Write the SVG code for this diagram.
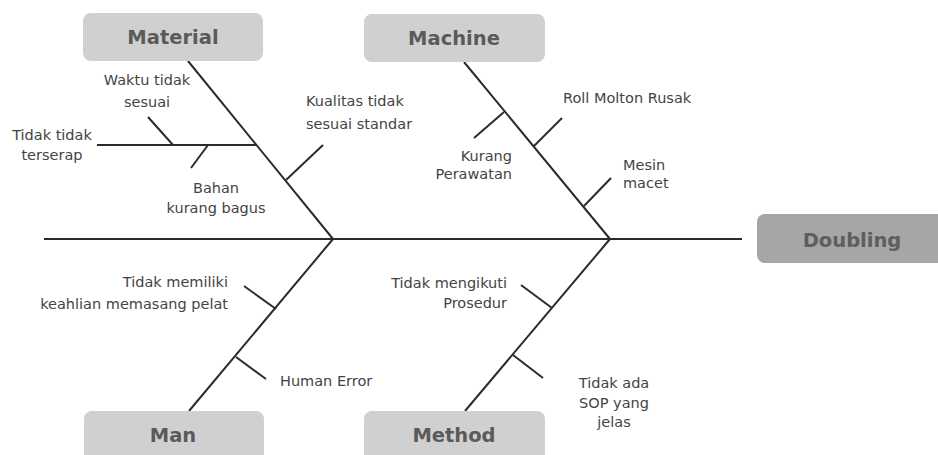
<svg xmlns="http://www.w3.org/2000/svg" width="938" height="455" viewBox="0 0 938 455">
<style>
.box{fill:#d0d0d0;}
.head{fill:#a6a6a6;}
.cat{font-family:"DejaVu Sans",sans-serif;font-weight:bold;font-size:19.5px;fill:#5a5a5a;text-anchor:middle;}
.lbl{font-family:"DejaVu Sans",sans-serif;font-size:14.5px;fill:#444;}
.bone{stroke:#2b2b2b;stroke-width:2;fill:none;stroke-linecap:butt;}
.mid{text-anchor:middle;}
.end{text-anchor:end;}
</style>
<rect width="938" height="455" fill="#ffffff"/>
<g id="connectors" class="bone">
<line x1="44" y1="239" x2="742" y2="239"/>
<line x1="188" y1="61" x2="333" y2="239"/>
<line x1="464" y1="62" x2="610" y2="239"/>
<line x1="333" y1="239" x2="189" y2="411"/>
<line x1="610" y1="239" x2="465" y2="411"/>
<line x1="97" y1="145" x2="257" y2="145"/>
<line x1="148" y1="117" x2="173" y2="145"/>
<line x1="208" y1="145" x2="191" y2="168"/>
<line x1="286" y1="180" x2="323" y2="145"/>
<line x1="504" y1="112" x2="474" y2="138"/>
<line x1="534" y1="146" x2="562" y2="118"/>
<line x1="584" y1="206" x2="611" y2="178"/>
<line x1="276" y1="309" x2="244" y2="286"/>
<line x1="236" y1="357" x2="266" y2="379"/>
<line x1="552" y1="308" x2="521" y2="285"/>
<line x1="513" y1="355" x2="543" y2="378"/>
</g>
<g id="doubling">
<rect class="head" x="757" y="214" width="200" height="49" rx="8"/>
<text class="cat" x="852" y="247" style="fill:#5e5e5e">Doubling</text>
</g>
<g id="material">
<rect class="box" x="83" y="13" width="180" height="48" rx="8"/>
<text class="cat" x="173" y="44">Material</text>
</g>
<g id="machine">
<rect class="box" x="364" y="14" width="181" height="48" rx="8"/>
<text class="cat" x="454" y="45">Machine</text>
</g>
<g id="man">
<rect class="box" x="84" y="411" width="180" height="60" rx="8"/>
<text class="cat" x="173" y="442">Man</text>
</g>
<g id="method">
<rect class="box" x="364" y="411" width="181" height="60" rx="8"/>
<text class="cat" x="454" y="442">Method</text>
</g>
<g id="waktu"><text class="lbl mid" x="147" y="85">Waktu tidak</text><text class="lbl mid" x="147" y="107">sesuai</text></g>
<g id="tidak-terserap"><text class="lbl mid" x="52" y="140">Tidak tidak</text><text class="lbl mid" x="52" y="160">terserap</text></g>
<g id="bahan"><text class="lbl mid" x="216" y="193">Bahan</text><text class="lbl mid" x="216" y="213">kurang bagus</text></g>
<g id="kualitas"><text class="lbl" x="306" y="106">Kualitas tidak</text><text class="lbl" x="306" y="129">sesuai standar</text></g>
<g id="roll"><text class="lbl" x="563" y="103">Roll Molton Rusak</text></g>
<g id="kurang"><text class="lbl end" x="512" y="161">Kurang</text><text class="lbl end" x="512" y="179">Perawatan</text></g>
<g id="mesin"><text class="lbl" x="623" y="170">Mesin</text><text class="lbl" x="623" y="188">macet</text></g>
<g id="keahlian"><text class="lbl end" x="228" y="287">Tidak memiliki</text><text class="lbl end" x="228" y="309">keahlian memasang pelat</text></g>
<g id="human"><text class="lbl" x="280" y="386">Human Error</text></g>
<g id="prosedur"><text class="lbl end" x="507" y="288">Tidak mengikuti</text><text class="lbl end" x="507" y="308">Prosedur</text></g>
<g id="sop"><text class="lbl mid" x="614" y="388">Tidak ada</text><text class="lbl mid" x="614" y="408">SOP yang</text><text class="lbl mid" x="614" y="427">jelas</text></g>
</svg>
